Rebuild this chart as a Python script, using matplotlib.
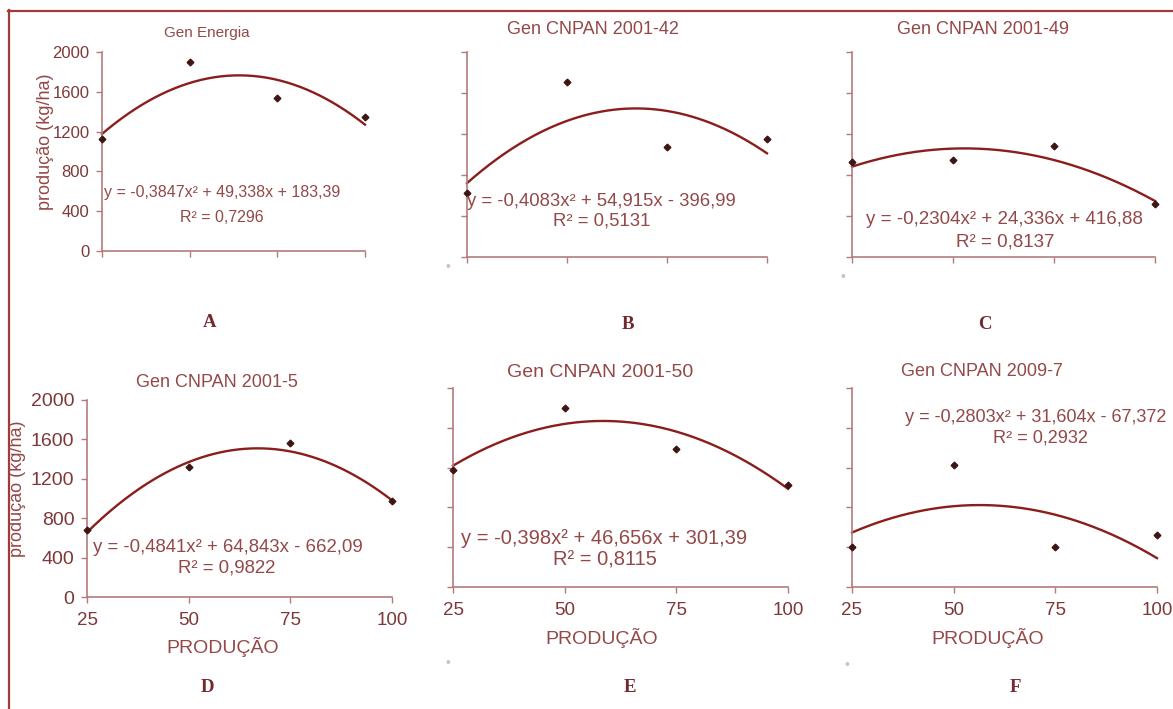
import numpy as np
import matplotlib
matplotlib.use("Agg")
import matplotlib.pyplot as plt
from matplotlib.lines import Line2D

W, H = 1173, 709

# doses (x) and yield (kg/ha) for each genotype
doses = [25, 50, 75, 100]
prod_a = [1126, 1900, 1538, 1347]
prod_b = [624, 1707, 1073, 1151]
prod_c = [927, 946, 1083, 520]
prod_d = [680, 1320, 1563, 975]
prod_e = [1180, 1800, 1390, 1030]
prod_f = [402, 1226, 400, 523]

# quadratic trendline coefficients (a, b, c) and R2
coef_a = (-0.3847, 49.338, 183.39)
coef_b = (-0.4083, 54.915, -396.99)
coef_c = (-0.2304, 24.336, 416.88)
coef_d = (-0.4841, 64.843, -662.09)
coef_e = (-0.398, 46.656, 301.39)
coef_f = (-0.2803, 31.604, -67.372)
r2_vals = [0.7296, 0.5131, 0.8137, 0.9822, 0.8115, 0.2932]

titles = ["Gen Energia", "Gen CNPAN 2001-42", "Gen CNPAN 2001-49",
          "Gen CNPAN 2001-5", "Gen CNPAN 2001-50", "Gen CNPAN 2009-7"]
letters = ["A", "B", "C", "D", "E", "F"]
yticks = [0, 400, 800, 1200, 1600, 2000]

TXT = "#944848"
AX = "#b47b7b"
CURVE = "#8b1d1d"
MARK = "#3e1515"

# per panel layout in pixels: axes box, text spots, font sizes
panels = [
    dict(y=prod_a, k=coef_a, box=(102, 365, 52, 251), title=(207, 33), tfs=11,
         eq=(222, 193), r2=(222, 217), efs=11.5, ylab=(45, 142), yt=True, xt=False,
         letter=(210, 323), tickfs=12),
    dict(y=prod_b, k=coef_b, box=(467, 767, 52, 257), title=(593, 30), tfs=13,
         eq=(601, 202), r2=(602, 221), efs=13.3, ylab=None, yt=False, xt=False,
         letter=(628, 325), dot=(448, 267)),
    dict(y=prod_c, k=coef_c, box=(852, 1155, 52, 257), title=(983, 30), tfs=13,
         eq=(1004, 220), r2=(1005, 242), efs=13.5, ylab=None, yt=False, xt=False,
         letter=(985, 325), dot=(843, 277)),
    dict(y=prod_d, k=coef_d, box=(87, 392, 400, 597), title=(217, 382), tfs=13,
         eq=(228, 547), r2=(227, 568), efs=13.4, ylab=(18, 489), yt=True, xt=True,
         letter=(207, 688), xlab=(223, 647), tickfs=14),
    dict(y=prod_e, k=coef_e, box=(453, 788, 388, 587), title=(600, 373), tfs=14,
         eq=(604, 538), r2=(605, 560), efs=14.5, ylab=None, yt=False, xt=True,
         letter=(630, 688), xlab=(602, 638), dot=(448, 663)),
    dict(y=prod_f, k=coef_f, box=(852, 1157, 388, 587), title=(982, 372), tfs=13,
         eq=(905, 418), r2=(1040, 438), efs=13.1, ylab=None, yt=False, xt=True,
         letter=(1015, 687), xlab=(988, 638), dot=(847, 665), eq_left=True),
]

plt.rcParams["font.family"] = ["Liberation Sans", "DejaVu Sans"]

fig = plt.figure(figsize=(W / 100, H / 100), dpi=100)
fig.patch.set_facecolor("white")


def fx(px):
    return px / W


def fy(py):
    return 1 - py / H


def num(v):
    return repr(abs(v)).replace(".", ",")


def equation(k):
    a, b, c = k
    s = "y = " + ("-" if a < 0 else "") + num(a) + "x\u00b2"
    s += (" + " if b >= 0 else " - ") + num(b) + "x"
    s += (" + " if c >= 0 else " - ") + num(c)
    return s


xs = np.linspace(25, 100, 200)

for i, p in enumerate(panels):
    x0, x1, ytop, y0 = p["box"]
    ax = fig.add_axes([fx(x0), fy(y0), fx(x1 - x0), (y0 - ytop) / H])
    ax.set_xlim(25, 100)
    ax.set_ylim(0, 2000)
    ax.set_facecolor("none")
    for s in ["top", "right"]:
        ax.spines[s].set_visible(False)
    for s in ["left", "bottom"]:
        ax.spines[s].set_color(AX)
        ax.spines[s].set_linewidth(1.2)
    ax.set_xticks(doses)
    ax.set_yticks(yticks)
    ax.tick_params(direction="out", length=4, width=1, color=AX,
                   labelcolor="#7e3838", pad=5)
    fs = p.get("tickfs", 13.5)
    if p["yt"]:
        ax.set_yticklabels([str(t) for t in yticks], fontsize=fs)
    else:
        ax.set_yticklabels([])
    if p["xt"]:
        ax.set_xticklabels([str(d) for d in doses], fontsize=13.5)
        ax.tick_params(axis="x", pad=7)
    else:
        ax.set_xticklabels([])

    a, b, c = p["k"]
    ax.plot(xs, a * xs ** 2 + b * xs + c, color=CURVE, lw=1.7, clip_on=False)
    ax.plot(doses, p["y"], linestyle="none", marker="D", markersize=3.4,
            color=MARK, clip_on=False, zorder=5)

    fig.text(fx(p["title"][0]), fy(p["title"][1]), titles[i], fontsize=p["tfs"],
             color=TXT, ha="center", va="center")
    if p.get("eq_left"):
        fig.text(fx(p["eq"][0]), fy(p["eq"][1]), equation(p["k"]), fontsize=p["efs"],
                 color=TXT, ha="left", va="center")
    else:
        fig.text(fx(p["eq"][0]), fy(p["eq"][1]), equation(p["k"]), fontsize=p["efs"],
                 color=TXT, ha="center", va="center")
    fig.text(fx(p["r2"][0]), fy(p["r2"][1]),
             "R\u00b2 = " + num(r2_vals[i]), fontsize=p["efs"],
             color=TXT, ha="center", va="center")
    if p["ylab"]:
        fig.text(fx(p["ylab"][0]), fy(p["ylab"][1]), "produção (kg/ha)", fontsize=13,
                 color=TXT, rotation=90, ha="center", va="center")
    if p.get("xlab"):
        fig.text(fx(p["xlab"][0]), fy(p["xlab"][1]), "PRODUÇÃO", fontsize=14,
                 color=TXT, ha="center", va="center")
    if p.get("dot"):
        fig.text(fx(p["dot"][0]), fy(p["dot"][1]), "\u2022", fontsize=10,
                 color="#c4c4c4", ha="center", va="center")
    fig.text(fx(p["letter"][0]), fy(p["letter"][1]), letters[i], fontsize=13.5,
             family=["Liberation Serif", "DejaVu Serif"], weight="bold",
             color="#722a30", ha="center", va="center")

# frame lines on the top and left edges
fig.add_artist(Line2D([fx(8), 1], [fy(10.5), fy(10.5)], color="#a23a3a", lw=1.6))
fig.add_artist(Line2D([fx(8.5), fx(8.5)], [0, fy(10)], color="#a23a3a", lw=1.6))

fig.savefig("out.png", dpi=100, facecolor="white")
